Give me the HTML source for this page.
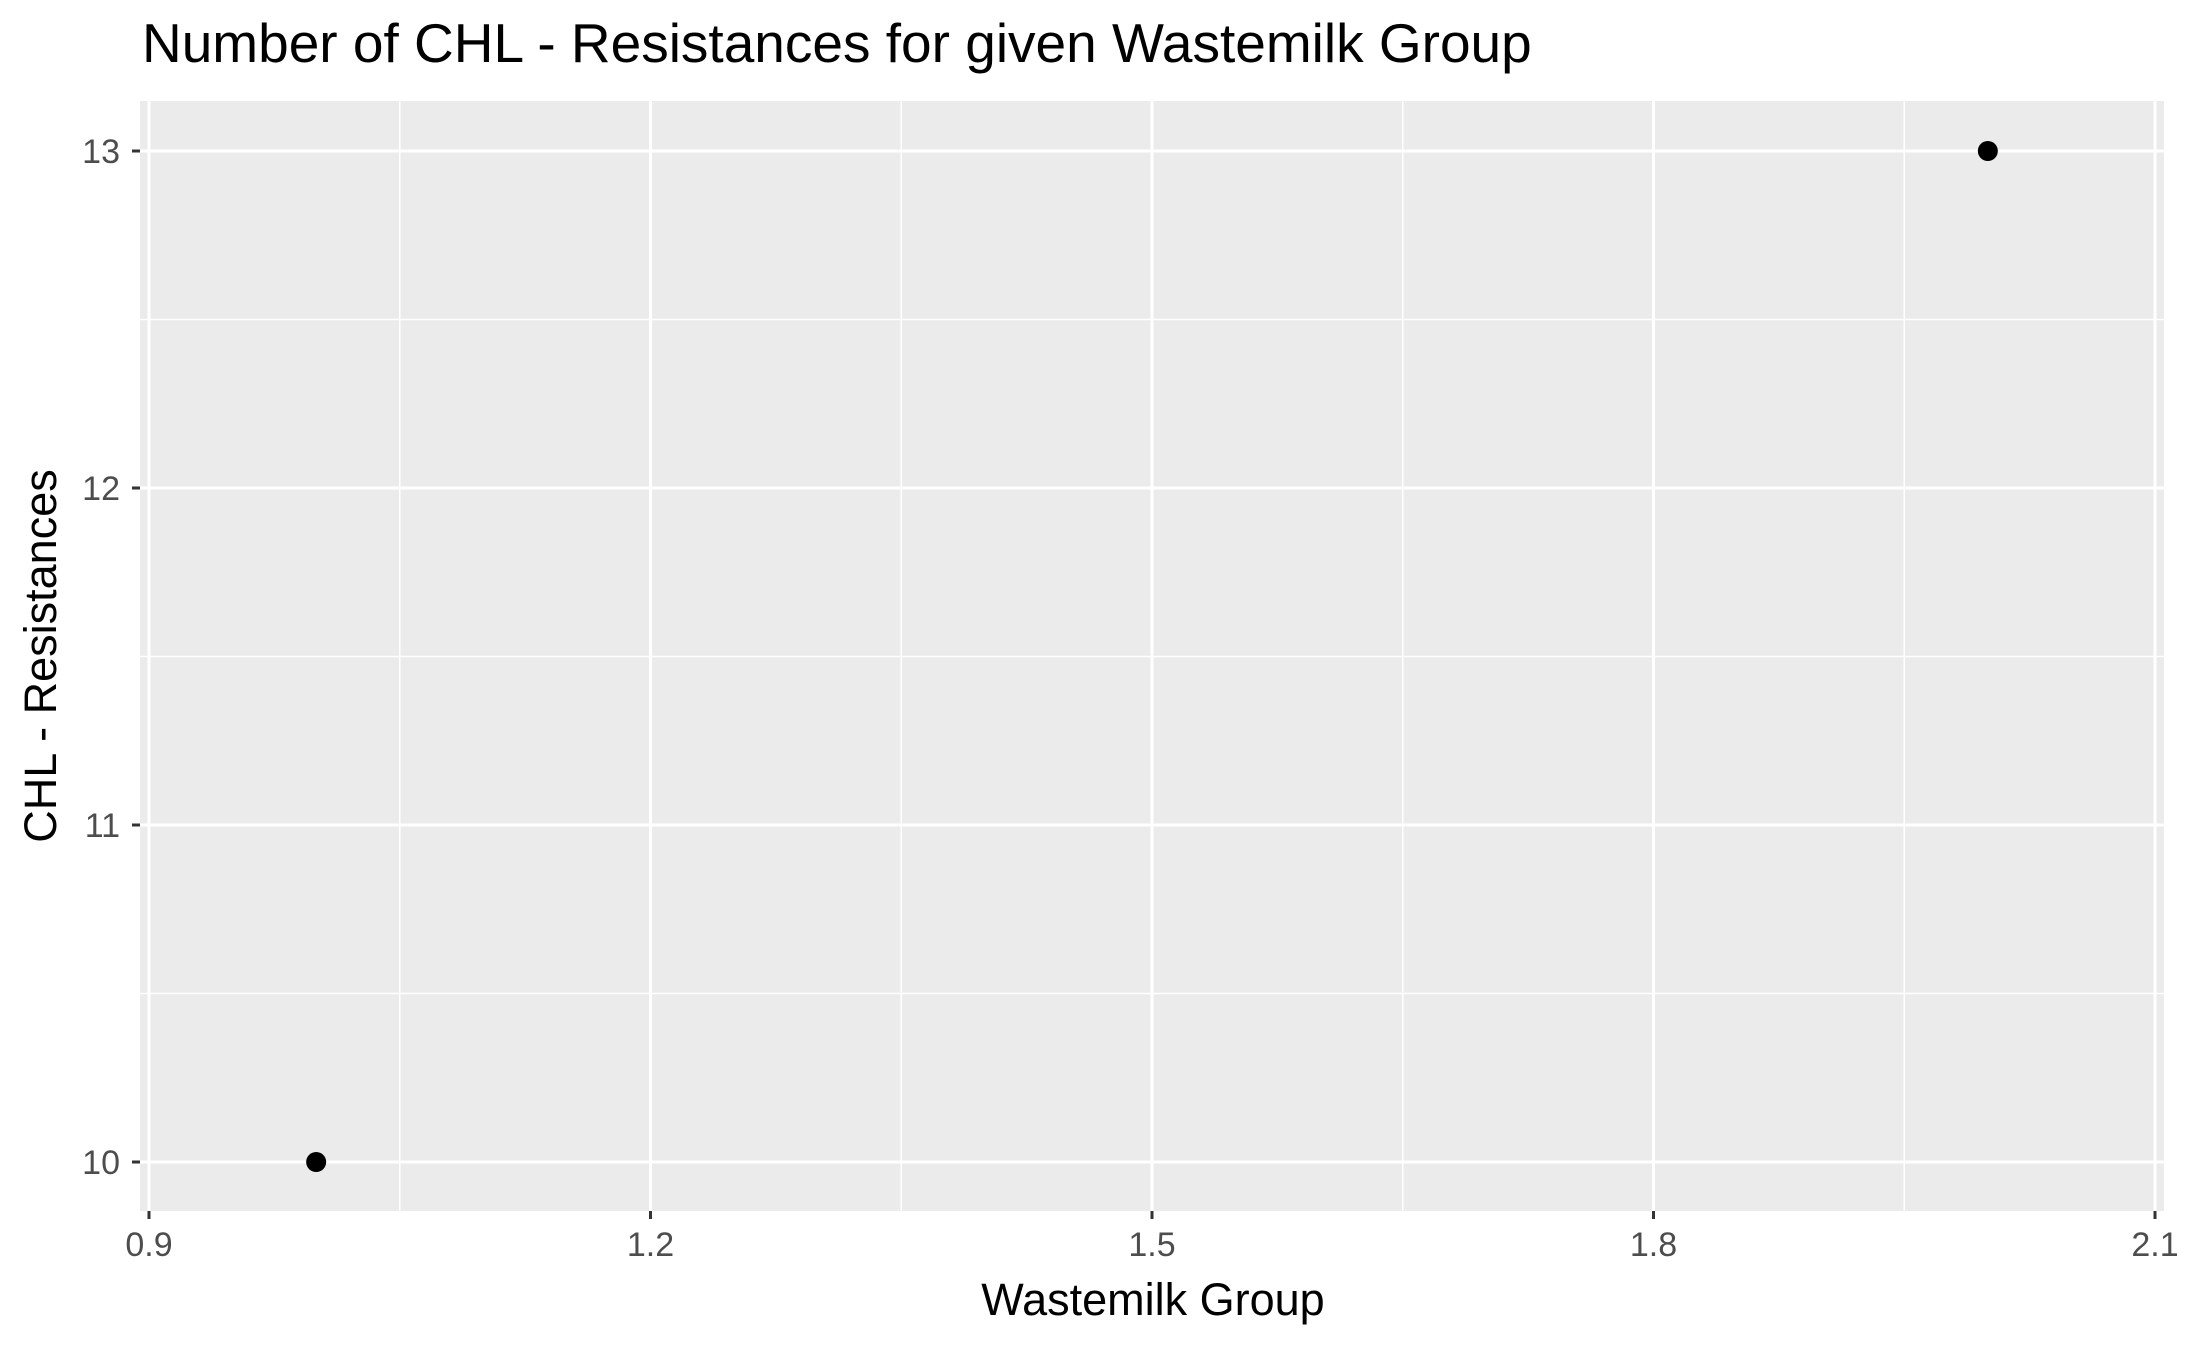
<!DOCTYPE html>
<html><head><meta charset="utf-8"><style>
html,body{margin:0;padding:0;background:#fff;}
svg{display:block;font-family:"Liberation Sans",Arial,sans-serif;}
</style></head><body>
<svg id="chart" width="2187" height="1350">
<text x="142" y="62" font-size="55" fill="#000">Number of CHL - Resistances for given Wastemilk Group</text>
<rect x="140" y="101" width="2024" height="1110" fill="#ebebeb"/>
<g id="grid"></g><g id="axes"></g><g id="points"></g>
<text x="1153" y="1315" font-size="45" text-anchor="middle" fill="#000">Wastemilk Group</text>
<text transform="translate(56,656) rotate(-90)" font-size="45" text-anchor="middle" fill="#000">CHL - Resistances</text>
</svg>
<script>
const xTicks=[0.9,1.2,1.5,1.8,2.1];
const xTickLabels=["0.9","1.2","1.5","1.8","2.1"];
const xMinor=[1.05,1.35,1.65,1.95];
const yTicks=[10,11,12,13];
const yTickLabels=["10","11","12","13"];
const yMinor=[10.5,11.5,12.5];
const groups=[1,2];
const resistances=[10,13];
const NS="http://www.w3.org/2000/svg";
function sx(v){return 149+(v-0.9)/1.2*(2155-149);}
function sy(v){return 1162-(v-10)/3*(1162-151);}
function mk(p,tag,a){const e=document.createElementNS(NS,tag);for(const k in a)e.setAttribute(k,a[k]);p.appendChild(e);return e;}
const grid=document.getElementById('grid'),axes=document.getElementById('axes'),pts=document.getElementById('points');
xMinor.forEach(v=>{const l=mk(grid,'line',{x1:sx(v),x2:sx(v),y1:101,y2:1211,stroke:'#fff','stroke-width':1.5});

});
yMinor.forEach(v=>{const l=mk(grid,'line',{x1:140,x2:2164,y1:sy(v),y2:sy(v),stroke:'#fff','stroke-width':1.5});

});
xTicks.forEach((v,i)=>{const l=mk(grid,'line',{x1:sx(v),x2:sx(v),y1:101,y2:1211,stroke:'#fff','stroke-width':3});


const t=mk(axes,'line',{x1:sx(v),x2:sx(v),y1:1211,y2:1219,stroke:'#333','stroke-width':3});


const tx=mk(axes,'text',{x:sx(v),y:1256,'font-size':34,'text-anchor':'middle',fill:'#4d4d4d'});tx.textContent=xTickLabels[i];

});
yTicks.forEach((v,i)=>{const l=mk(grid,'line',{x1:140,x2:2164,y1:sy(v),y2:sy(v),stroke:'#fff','stroke-width':3});


const t=mk(axes,'line',{x1:132,x2:140,y1:sy(v),y2:sy(v),stroke:'#333','stroke-width':3});


const tx=mk(axes,'text',{x:120,y:sy(v)+12,'font-size':34,'text-anchor':'end',fill:'#4d4d4d'});tx.textContent=yTickLabels[i];

});
groups.forEach((g,i)=>{const c=mk(pts,'circle',{cx:sx(g),cy:sy(resistances[i]),r:10,fill:'#000'});

});
</script>
</body></html>
